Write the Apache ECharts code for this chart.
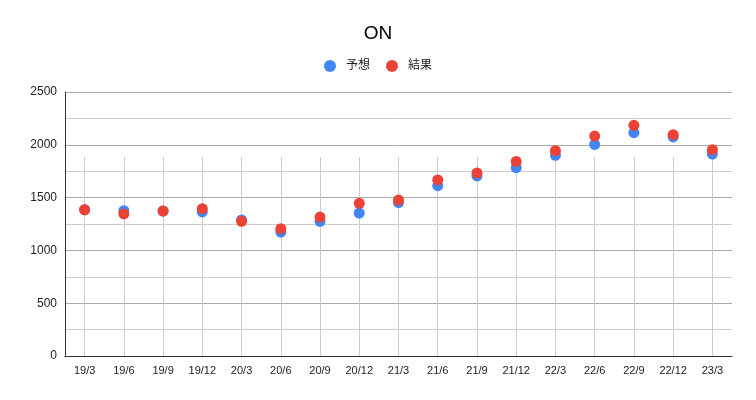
<!DOCTYPE html>
<html>
<head>
<meta charset="utf-8">
<script src="https://cdn.jsdelivr.net/npm/echarts@6/dist/echarts.min.js"></script>
<style>html,body{margin:0;padding:0;background:#fff}#c{width:756px;height:400px}</style>
</head>
<body>
<div id="c"></div>
<script>
const categories = ['19/3','19/6','19/9','19/12','20/3','20/6','20/9','20/12','21/3','21/6','21/9','21/12','22/3','22/6','22/9','22/12','23/3'];
const forecast = [1385,1376,1373,1364,1288,1174,1275,1354,1452,1613,1705,1783,1900,2004,2115,2074,1913];
const actual   = [1385,1345,1373,1395,1275,1206,1316,1446,1477,1667,1733,1843,1944,2083,2184,2096,1954];
const seriesNames = ['予想','結果'];
const yTicks = {min:0, max:2500, interval:500};

const font = 'Arial, "Liberation Sans", "Noto Sans CJK JP", sans-serif';
const chart = echarts.init(document.getElementById('c'));
chart.setOption({
  animation:false,
  title:{text:'ON', left:'center', top:19, textStyle:{fontFamily:font, fontSize:19, fontWeight:'normal', color:'#000'}},
  legend:{top:55, left:'center', itemWidth:12, itemHeight:12, itemGap:16, icon:'circle',
    textStyle:{fontFamily:font, fontSize:12, color:'#222', padding:[0,0,0,5]}, data:seriesNames},
  grid:[
    {left:65, right:24, top:92, bottom:44},
    {left:65, right:24, top:157, bottom:44}
  ],
  xAxis:[
    {type:'category', data:categories, gridIndex:0, boundaryGap:true,
      axisLine:{show:true, lineStyle:{color:'#333', width:1}},
      axisTick:{show:false},
      axisLabel:{fontFamily:font, fontSize:11, color:'#222', margin:9, interval:0},
      splitLine:{show:false}},
    {type:'category', data:categories, gridIndex:1, boundaryGap:true,
      axisLine:{show:false}, axisTick:{show:false, alignWithLabel:true}, axisLabel:{show:false},
      splitLine:{show:true, alignWithLabel:true, interval:0, lineStyle:{color:'#ccc', width:1}}}
  ],
  yAxis:[
    {type:'value', gridIndex:0, min:yTicks.min, max:yTicks.max, interval:yTicks.interval,
      axisLine:{show:true, lineStyle:{color:'#333'}},
      axisTick:{show:false},
      axisLabel:{fontFamily:font, fontSize:12, color:'#222', margin:8, formatter:function(v){return String(v);}},
      splitLine:{show:true, lineStyle:{color:'#aaa', width:1}},
      minorTick:{show:false, splitNumber:2},
      minorSplitLine:{show:true, lineStyle:{color:'#ccc', width:1}}},
    {type:'value', gridIndex:1, show:false, min:0, max:1}
  ],
  series:[
    {name:seriesNames[0], type:'scatter', xAxisIndex:0, yAxisIndex:0, data:forecast, symbolSize:11, itemStyle:{color:'#4285F4', opacity:1}, z:3},
    {name:seriesNames[1], type:'scatter', xAxisIndex:0, yAxisIndex:0, data:actual, symbolSize:11, itemStyle:{color:'#EA4335', opacity:1}, z:4}
  ]
});
</script>
</body>
</html>
